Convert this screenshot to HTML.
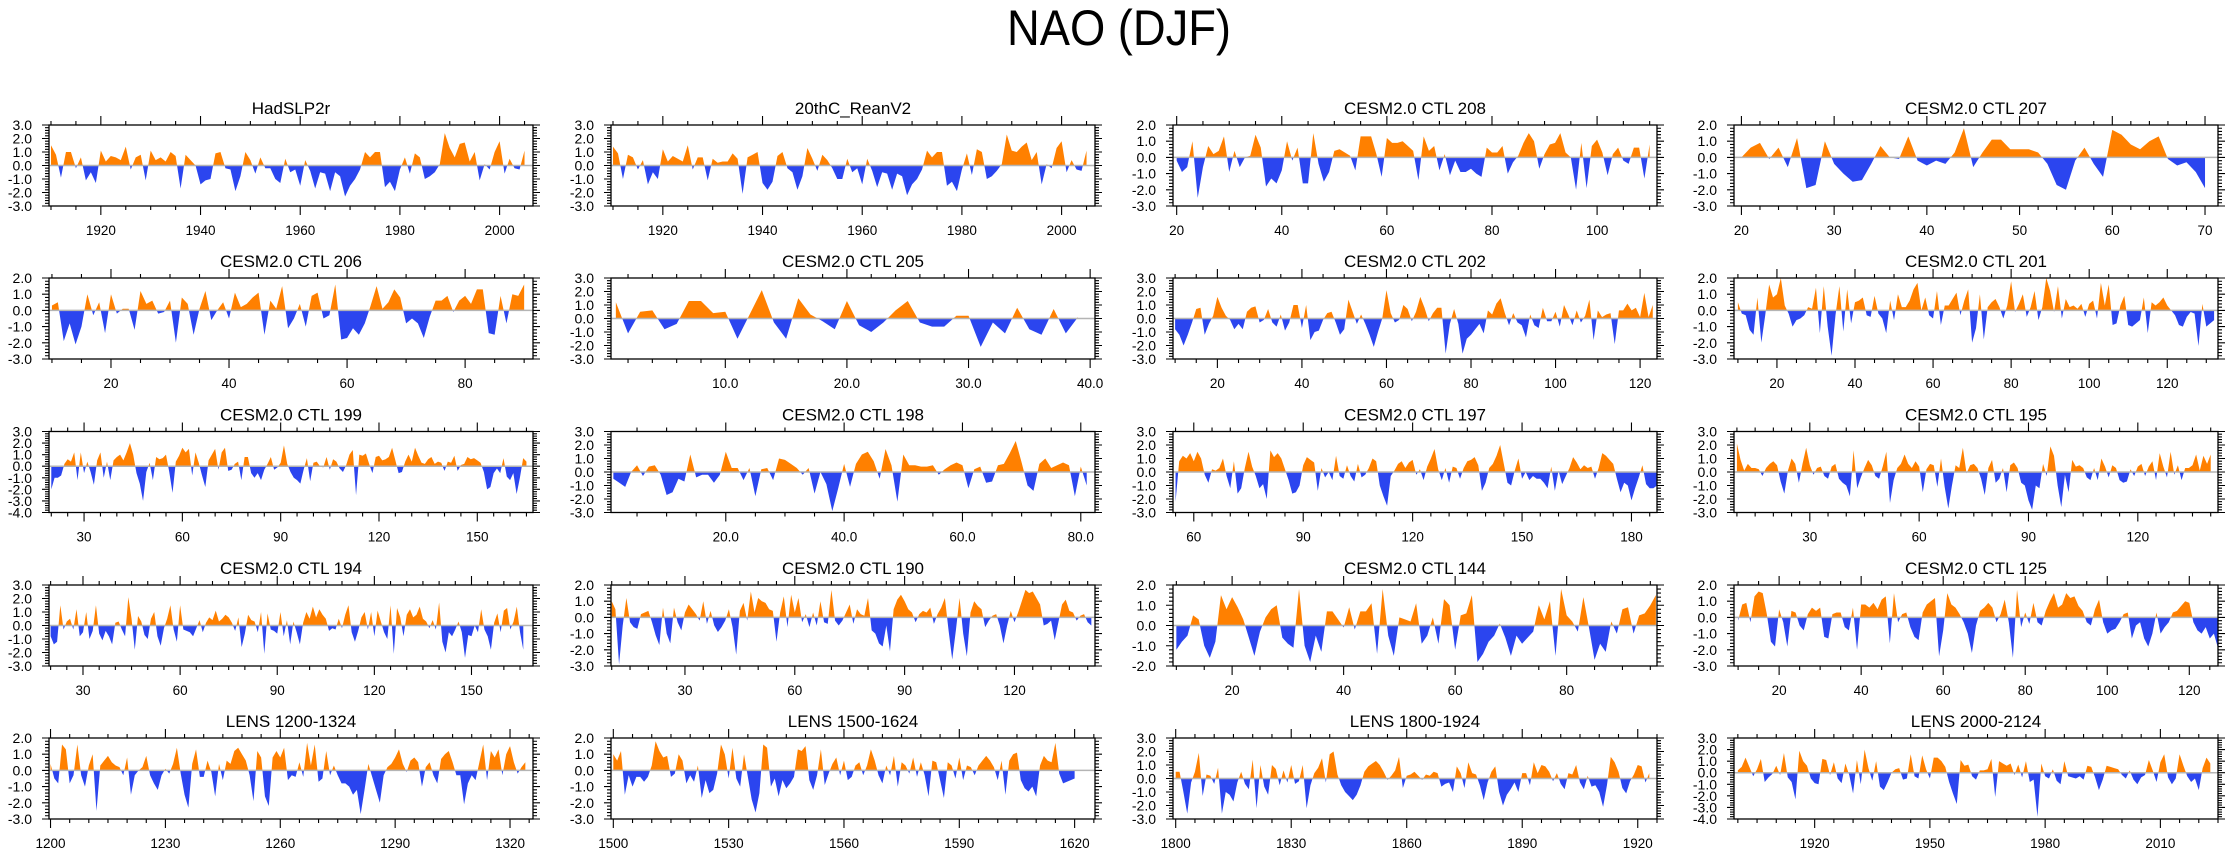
<!DOCTYPE html>
<html><head><meta charset="utf-8"><title>NAO (DJF)</title>
<style>
html,body{margin:0;padding:0;background:#fff;}
svg{display:block;font-family:"Liberation Sans",Arial,sans-serif;}
</style></head>
<body>
<svg id="chart" width="2238" height="856" viewBox="0 0 2238 856" xmlns="http://www.w3.org/2000/svg">
<rect x="0" y="0" width="2238" height="856" fill="#fff"/>
<text x="1119" y="45" text-anchor="middle" font-size="50" textLength="224" lengthAdjust="spacingAndGlyphs">NAO (DJF)</text>
<g id="panels"></g>
</svg>
<script>
const titles = ["HadSLP2r","20thC_ReanV2","CESM2.0 CTL 208","CESM2.0 CTL 207","CESM2.0 CTL 206","CESM2.0 CTL 205","CESM2.0 CTL 202","CESM2.0 CTL 201","CESM2.0 CTL 199","CESM2.0 CTL 198","CESM2.0 CTL 197","CESM2.0 CTL 195","CESM2.0 CTL 194","CESM2.0 CTL 190","CESM2.0 CTL 144","CESM2.0 CTL 125","LENS 1200-1324","LENS 1500-1624","LENS 1800-1924","LENS 2000-2124"];
const yMin = [-3,-3,-3,-3,-3,-3,-3,-3,-4,-3,-3,-3,-3,-3,-2,-3,-3,-3,-3,-4];
const yMax = [3,3,2,2,2,3,3,2,3,3,3,3,3,2,2,2,2,2,3,3];
const xMin = [1909.6,1909.6,19.3,19.2,9.5,0.6,9.5,9,19.3,0.6,54.3,9.2,19.5,9.8,9.4,9,1199.6,1499.4,1799.3,1899];
const xMax = [2006.7,2006.7,111.4,71.4,91.5,40.4,124,133,167,82.4,187,142,169,142,96.2,127,1326,1625.3,1925,2025];
const xStart = [1910,1910,20,20,10,1,10,10,20,1,55,10,20,10,10,10,1200,1500,1800,1900];
const xTicks = [
 [1920,1940,1960,1980,2000],[1920,1940,1960,1980,2000],[20,40,60,80,100],[20,30,40,50,60,70],
 [20,40,60,80],[10,20,30,40],[20,40,60,80,100,120],[20,40,60,80,100,120],
 [30,60,90,120,150],[20,40,60,80],[60,90,120,150,180],[30,60,90,120],
 [30,60,90,120,150],[30,60,90,120],[20,40,60,80],[20,40,60,80,100,120],
 [1200,1230,1260,1290,1320],[1500,1530,1560,1590,1620],[1800,1830,1860,1890,1920],[1920,1950,1980,2010]];
const xTickDecimals = [0,0,0,0,0,1,0,0,0,1,0,0,0,0,0,0,0,0,0,0];
const xMinorStep = [5,5,5,2,5,2,5,5,5,5,5,5,5,5,5,5,5,5,5,5];

const s_hadslp = [1.5,0.8,-0.9,1.0,1.0,-0.2,0.6,-1.1,-0.5,-1.3,1.1,0.3,0.7,0.6,0.4,1.4,-0.3,0.6,0.8,-1.1,1.1,0.4,0.6,0.3,1.0,0.7,-1.7,0.8,0.4,0.0,-1.4,-1.1,-1.0,0.9,1.0,-0.2,-0.3,-1.9,-0.8,1.0,0.4,-0.6,0.6,-0.2,-0.2,-1.0,-1.3,0.5,-0.5,-0.3,-1.5,0.4,-0.4,-1.7,-0.5,-0.6,-1.9,-0.5,-0.8,-2.3,-1.5,-1.0,-0.3,1.0,0.6,1.0,1.0,-1.6,-1.2,-1.9,-0.3,0.6,-0.6,0.9,0.6,-1.0,-0.8,-0.5,0.1,2.4,1.3,0.6,1.6,1.7,0.3,1.0,-1.1,0.1,-0.3,1.0,1.8,-0.6,0.5,-0.2,-0.3,1.1];
const s_20c = [1.4,0.9,-1.0,0.8,0.6,-0.3,0.4,-1.4,-0.5,-1.0,1.2,0.3,0.7,0.5,0.3,1.5,-0.3,0.6,0.6,-1.1,0.5,0.2,0.3,0.3,0.9,0.5,-2.1,0.6,0.8,1.0,-1.3,-1.8,-1.2,0.7,1.0,-0.2,-0.5,-1.8,-0.8,1.3,0.5,-0.4,0.8,0.4,-0.2,-1.0,-1.0,0.5,-0.5,-0.2,-1.4,0.5,-0.4,-1.6,-0.5,-0.6,-1.8,-0.6,-0.8,-2.2,-1.4,-1.0,-0.3,1.1,0.6,1.0,1.0,-1.5,-1.2,-1.9,-0.3,0.9,-0.7,1.2,1.0,-1.0,-0.8,-0.4,0.1,2.3,1.1,1.0,1.4,1.7,0.4,1.0,-1.4,0.1,-0.2,1.3,1.8,-0.5,0.4,-0.3,-0.4,1.1];
const s_208 = [-0.2,-0.9,-0.6,1.0,-2.5,-0.6,0.7,0.2,0.4,1.3,-0.9,0.4,-0.6,0.0,0.1,1.4,0.6,-1.8,-1.3,-1.6,-0.8,1.0,-0.2,0.6,-1.6,-1.6,1.5,-0.4,-1.5,-0.9,0.4,0.5,0.3,0.1,-0.8,1.3,1.3,1.3,0.2,-1.2,1.2,0.9,0.9,1.0,0.7,0.4,-1.4,1.3,0.4,0.7,-0.8,0.2,-1.1,-0.2,-0.9,-0.9,-0.7,-1.0,-1.2,0.6,0.3,0.3,0.7,-1.0,-0.3,0.1,0.9,1.5,1.0,-0.7,0.2,0.8,0.9,1.5,0.3,0.0,-2.0,0.9,-1.9,0.7,1.1,0.3,-1.1,0.2,0.6,-0.2,-0.4,0.6,0.6,-1.3,0.8];
const s_207 = [0.0,0.6,0.9,-0.1,0.6,-0.6,1.2,-1.9,-1.7,1.0,-0.4,-1.0,-1.5,-1.4,-0.4,0.7,0.0,-0.1,1.3,-0.2,-0.5,-0.2,-0.4,0.3,1.8,-0.6,0.3,1.1,1.1,0.5,0.5,0.5,0.3,-0.4,-1.7,-2.0,-0.2,0.6,-0.4,-1.2,1.7,1.4,0.8,0.5,1.0,1.3,-0.1,-0.5,-0.3,-0.9,-1.9];
const s_206 = [0.3,0.5,-1.9,-0.8,-2.1,-1.0,1.0,-0.3,0.5,-1.4,1.0,-0.2,0.1,0.1,-1.2,1.2,0.4,0.6,-0.2,-0.1,0.6,-2.0,0.8,0.4,-1.5,0.1,1.2,-0.6,0.0,0.5,-0.5,1.1,0.2,0.4,0.8,1.1,-1.5,0.6,0.1,1.5,-1.1,-0.5,0.4,-1.0,0.9,1.1,-0.5,-0.3,1.6,-1.8,-1.7,-1.1,-1.5,-0.8,0.3,1.5,0.1,0.5,1.3,0.8,-0.8,-0.5,-0.8,-1.7,-0.4,0.6,0.6,0.9,-0.1,0.6,0.9,0.4,1.3,1.3,-1.4,-1.5,0.9,-0.8,1.0,0.9,1.6];
const s_205 = [1.2,-1.1,0.5,0.6,-0.8,-0.4,1.3,1.3,0.4,0.5,-1.5,0.3,2.1,-0.3,-1.5,1.5,0.3,-0.2,-0.8,1.3,-0.5,-1.0,-0.3,0.6,1.3,-0.3,-0.6,-0.6,0.2,0.2,-2.1,-0.3,-1.1,0.8,-0.8,-1.2,0.7,-1.1,0.1];
const s_202 = [-0.8,-1.2,-2.0,-1.2,-0.3,0.7,0.8,-1.2,-0.4,0.2,1.6,0.8,0.2,-0.1,-0.8,-0.4,-0.8,0.5,0.8,0.9,-0.3,-0.1,0.7,-0.3,-0.6,0.3,-0.9,-0.3,1.0,1.0,-0.7,1.0,-1.6,-1.0,-0.9,-0.1,0.4,0.5,-0.3,-1.2,-0.8,1.4,0.5,-0.4,0.3,-0.4,-1.2,-2.1,-1.0,0.0,2.1,0.4,-0.3,-0.1,1.0,0.7,-0.2,0.5,1.6,0.8,-0.2,0.4,0.8,0.8,-2.6,-0.4,0.7,-0.4,-2.6,-1.5,-1.2,-0.8,-0.4,-1.1,0.6,0.3,1.1,1.5,0.4,-0.5,0.4,-0.3,-0.5,-1.4,0.3,-0.5,-0.7,0.8,-0.2,-0.2,0.5,-0.6,1.0,0.3,-0.5,0.6,-0.3,0.2,1.4,-1.6,0.6,0.1,0.3,0.4,-1.9,0.6,0.6,1.1,0.6,0.8,0.1,1.9,0.1,1.0];
const s_201 = [0.5,-0.2,-0.3,-1.2,-1.5,0.8,-2.0,-0.3,1.6,0.8,1.0,2.0,0.3,-0.2,-1.0,-0.6,-0.5,-0.3,0.2,0.1,1.4,-1.4,1.5,-1.0,-2.8,-0.3,1.5,-1.3,1.3,-0.8,0.5,0.6,0.8,-0.3,-0.4,0.9,-0.2,-0.5,-1.4,0.6,-0.6,1.0,0.2,0.2,0.6,1.3,1.7,0.0,0.8,-0.3,-0.5,1.2,-0.9,0.3,0.3,0.7,1.1,-0.3,0.6,1.3,-2.0,-1.1,1.0,-1.8,0.2,0.5,0.7,0.2,-0.5,0.3,1.8,-0.1,0.4,1.0,-0.4,0.2,1.2,-0.6,0.2,2.0,1.2,-0.1,1.5,-0.5,0.7,0.2,0.3,0.1,0.4,-0.4,0.4,0.6,-0.5,1.7,0.3,1.6,-0.9,-0.8,0.3,0.9,-0.9,-1.0,-0.8,-0.6,0.8,-1.4,0.5,0.3,0.5,0.8,0.3,0.0,-0.3,-0.9,-1.0,-0.4,-0.1,-0.2,-2.2,0.4,-1.0,-0.8,-0.6];
const s_199 = [-2.0,-1.0,-1.0,-0.8,0.2,0.6,0.4,1.2,-1.2,1.2,-0.6,0.4,-0.5,-1.6,0.5,1.2,-1.0,0.4,-1.2,0.5,0.8,1.0,0.5,1.2,2.0,1.0,-0.6,-1.5,-3.0,-0.5,0.3,-1.2,0.8,0.6,0.7,1.0,-0.5,-2.3,0.4,0.9,1.6,1.2,1.5,-0.8,1.2,0.3,-0.8,-1.8,0.5,1.0,1.5,-0.3,1.2,1.6,-0.4,-0.3,0.2,0.4,-1.2,0.8,0.8,-0.6,-1.0,-0.6,-1.2,-0.3,0.2,0.8,-0.3,-0.1,0.3,1.8,0.2,-0.5,-1.0,-1.2,-1.5,-0.3,0.7,-1.3,0.3,0.4,0.0,-0.1,0.8,-0.3,0.6,0.4,-0.2,-0.5,0.1,1.0,1.4,-2.5,1.0,0.9,1.1,0.2,-0.6,0.8,0.9,0.5,0.6,0.8,1.6,0.5,-0.6,-0.5,0.4,1.0,0.4,1.6,0.9,0.3,0.2,0.6,0.8,0.2,0.4,0.3,-0.4,0.4,0.3,0.9,-0.4,0.1,0.2,0.8,0.6,0.7,0.5,0.3,-0.5,-2.0,-1.8,-0.6,-0.2,-0.6,0.7,-0.9,-1.2,-0.6,-2.4,-1.0,0.7,0.4];
const s_198 = [-0.5,-0.8,-1.1,0.0,0.5,-0.3,0.4,0.5,-0.2,-1.7,-1.5,-0.5,-0.7,1.3,-0.4,-0.2,-0.2,-0.8,-0.2,1.5,0.3,0.3,-0.6,0.3,-1.8,0.2,0.3,-0.6,1.0,0.9,0.6,0.3,-0.2,0.3,-1.6,0.0,-0.9,-2.9,-1.2,0.6,-1.1,0.6,1.3,1.5,0.8,-0.5,1.7,0.5,-2.2,1.3,0.5,0.5,0.4,0.4,0.5,-0.2,0.2,0.5,0.7,0.5,-1.2,0.2,0.4,-0.8,-0.7,0.5,0.6,1.4,2.3,0.7,-1.0,-1.4,0.6,1.0,0.3,0.5,0.7,0.5,-1.8,0.4,-1.0];
const s_197 = [-2.2,0.8,1.2,1.0,1.4,0.8,1.5,1.0,-0.2,-0.8,0.2,0.1,0.3,1.0,-0.3,-1.2,0.8,-1.6,-1.2,0.3,1.5,0.4,-0.3,-1.2,-0.9,-2.0,1.6,1.1,1.4,1.0,0.2,-0.6,-1.6,-1.5,-1.0,0.5,1.1,0.9,0.7,-1.4,0.3,-0.4,0.0,-0.6,1.2,-0.3,-0.5,0.5,-0.3,-0.7,0.6,-0.4,-0.2,0.3,1.0,0.8,-1.0,-1.8,-2.5,-0.3,0.1,0.6,0.8,0.3,0.7,0.9,-0.2,0.2,-0.6,0.4,1.0,1.7,0.2,-0.6,0.3,-0.8,0.4,0.3,-0.5,0.3,0.8,0.9,1.1,0.5,-1.4,-0.8,0.3,0.6,1.2,2.0,0.6,-0.8,-1.0,0.1,1.0,-0.5,0.0,-0.6,-0.3,-0.5,-0.5,-0.8,-1.2,0.4,-1.4,0.1,-0.9,-0.3,0.3,1.1,0.7,0.2,0.5,0.3,0.4,-0.5,0.3,1.4,1.2,0.9,0.6,-0.5,-1.5,-0.8,-1.0,-2.1,-1.2,-0.4,0.5,-0.9,-1.2,-1.2,-1.0];
const s_195 = [2.1,0.9,0.1,0.6,0.3,0.3,0.2,-0.3,0.3,0.6,0.8,0.5,-0.7,-1.6,0.1,1.0,0.6,-0.8,0.6,1.8,0.5,-0.2,0.3,0.4,-0.3,-0.5,0.4,0.6,-0.5,-0.8,-1.0,-1.8,1.6,-1.2,-0.4,0.3,0.9,0.5,-0.3,-0.5,0.4,1.5,-2.3,-0.6,0.3,0.6,1.3,0.6,0.3,0.8,0.4,-1.5,0.2,0.6,0.5,-1.1,1.0,-1.1,-2.7,-1.0,0.5,0.3,1.8,-0.1,0.5,0.6,0.3,-0.5,-1.7,0.3,0.9,-0.8,-0.5,0.3,-1.5,0.5,0.7,0.3,-0.8,-1.0,-2.1,-2.8,-1.0,-1.2,0.6,-0.3,1.9,1.2,-1.0,-2.6,-0.2,-1.5,0.9,0.4,0.5,0.3,-0.4,-0.6,0.3,-0.6,1.0,0.4,-0.4,0.5,0.3,-0.6,-0.8,-0.7,0.2,-0.3,0.4,0.6,-0.3,0.4,0.8,-0.6,1.4,0.4,-0.4,1.5,-0.2,0.5,-0.6,0.3,0.3,0.5,1.3,0.1,1.2,0.6,1.3];
const s_194 = [-0.8,-1.4,-1.2,1.5,-0.3,0.3,0.5,-0.3,1.2,-0.8,-0.5,1.0,-1.0,-0.4,1.5,-0.6,-1.1,-0.4,-0.8,-1.4,0.2,0.3,-0.3,-0.8,2.1,0.5,-1.8,0.7,0.3,-0.7,-1.0,0.5,1.0,-0.8,-1.5,-0.2,0.5,1.5,-0.3,-1.2,1.5,-0.3,-0.4,-0.5,-0.8,-0.2,0.4,-0.5,0.2,0.6,0.4,1.1,0.3,0.5,0.8,0.6,0.2,-0.4,0.6,-1.6,-0.6,0.8,0.4,0.3,-0.5,1.0,-2.1,0.9,-0.3,-0.4,-0.6,1.0,-0.8,0.4,-1.4,0.3,-0.5,-1.4,0.2,1.0,0.5,1.4,0.6,1.2,0.8,0.5,-0.4,-0.2,-0.3,0.5,-0.2,0.8,1.5,-0.5,-1.2,-0.4,0.6,1.0,-0.3,1.0,-0.8,1.1,0.3,-0.5,-1.0,1.5,-2.1,1.3,0.6,-0.8,0.8,1.2,0.6,0.8,1.4,0.5,0.3,-0.2,0.4,-0.3,1.7,-1.2,-2.0,-0.5,-0.8,-0.3,0.3,-0.5,-2.4,-0.7,-0.8,0.0,-0.5,1.2,-0.3,-0.8,-1.8,0.2,0.9,-0.5,1.1,1.3,-0.3,0.3,1.4,-0.5,-1.8];
const s_190 = [1.0,0.5,-2.9,-0.5,1.2,-0.3,-0.6,-0.7,0.2,0.3,0.4,-0.3,-1.1,-1.7,0.6,-1.0,-1.6,0.6,-0.3,-0.8,0.3,0.8,0.5,0.2,-0.2,1.0,-0.4,0.4,-0.5,-0.9,-0.6,-0.2,0.5,-0.6,-2.3,0.4,0.9,-0.2,1.6,0.3,1.2,1.0,0.9,0.5,0.4,-1.5,0.3,1.3,-0.6,1.4,0.3,1.2,-0.3,0.2,-0.6,0.3,-0.5,1.0,-0.3,-0.4,1.7,-0.2,-0.5,-0.2,0.3,0.8,-0.4,0.5,0.2,0.1,1.2,-0.8,-1.0,-1.6,-1.8,-0.5,-2.1,0.5,1.1,1.4,1.0,0.5,0.3,-0.3,0.2,0.4,0.3,0.6,-0.4,0.2,0.6,1.2,-0.8,-2.6,-0.8,1.2,-1.0,-2.4,0.3,1.0,0.7,0.5,-0.6,-0.2,0.1,0.2,-0.5,-1.6,-0.5,0.4,-0.3,0.3,1.0,1.7,1.5,1.6,1.2,0.8,-0.5,-0.4,-0.2,-1.4,-0.3,0.8,1.1,0.4,0.3,-0.2,0.1,0.2,-0.3,-0.5];
const s_144 = [-1.2,-0.8,-0.5,0.5,0.3,-1.0,-1.6,-0.8,1.5,0.8,1.4,0.9,0.3,-0.6,-1.5,-0.3,0.4,0.8,1.0,-0.6,-0.9,-1.1,1.8,-1.0,-1.8,-0.5,-1.3,0.7,0.7,0.3,-0.1,0.9,-0.2,0.7,0.7,1.1,-1.4,1.8,-0.5,-1.5,0.4,0.3,0.2,1.1,-0.9,-0.5,0.4,-0.9,1.3,1.0,-1.2,0.5,0.6,1.5,-1.8,-1.4,-0.8,-0.5,0.1,-0.6,-1.5,-0.5,-0.9,-0.6,-0.3,1.0,0.3,1.2,-1.5,1.8,0.5,0.2,-0.3,1.4,-0.1,-1.7,-0.9,-1.3,0.2,-0.4,0.8,0.9,-0.4,0.5,0.6,1.0,1.5];
const s_125 = [-0.2,0.8,0.9,-0.3,1.3,1.6,1.5,0.2,-1.5,-1.8,0.5,-0.3,-1.8,0.4,0.3,-0.5,-0.8,0.2,0.6,0.4,0.6,-1.2,-1.3,0.2,0.3,0.3,-0.6,-0.8,0.6,-2.0,0.8,0.8,0.6,0.9,0.5,1.1,1.3,-1.6,1.5,-0.3,0.2,0.3,-0.6,-1.2,-1.4,0.3,0.8,1.0,1.2,-2.4,-0.8,1.5,0.8,0.6,0.2,-0.3,-1.0,-2.2,-0.5,0.4,0.6,0.9,0.6,-0.3,0.2,1.1,-0.3,-2.5,1.7,-0.6,0.3,-0.4,0.9,-0.3,-0.5,0.4,1.0,1.5,0.6,0.8,1.5,1.2,1.3,0.7,0.4,-0.3,-0.5,0.5,1.1,-0.3,-1.0,-0.8,-0.7,-0.3,0.2,0.3,-1.3,-0.5,-0.3,-1.3,-1.8,-1.0,0.3,-1.0,-0.6,-0.3,0.3,0.4,0.7,1.0,0.9,-0.3,-0.8,-1.0,-0.6,-1.3,-1.0,-1.9];
const s_lens1200 = [0.4,-0.5,-0.8,1.6,1.3,-0.8,-0.3,1.6,-0.3,-1.0,0.3,1.0,-2.5,0.3,0.6,0.9,0.5,0.3,0.2,-0.3,0.8,-1.5,-0.3,0.0,0.2,0.9,-0.3,-0.8,-1.2,-0.3,0.1,-0.2,0.4,1.4,-0.2,-1.5,-2.3,0.4,1.3,-0.4,-0.4,0.6,-0.1,-1.6,0.4,-0.6,0.6,0.4,1.2,1.4,1.0,0.6,-0.3,-1.9,1.2,0.8,-1.6,-2.2,0.8,1.2,0.8,1.4,-0.6,-0.3,-0.4,0.5,-0.4,1.7,0.3,1.6,-0.7,-0.5,1.2,-0.3,0.3,-0.3,-0.8,-0.8,-1.0,-1.5,-1.2,-2.7,-1.2,0.4,-0.4,-1.2,-2.0,-0.3,0.2,0.4,0.8,1.3,0.4,-0.1,0.6,0.8,0.5,-1.0,0.2,0.5,-0.3,-0.8,0.7,1.0,1.2,0.5,-0.3,-0.3,-2.1,-0.8,-0.3,-0.6,0.5,1.6,-0.6,1.2,0.8,1.3,-0.3,1.0,1.5,0.5,-0.2,0.2,0.5];
const s_lens1500 = [1.0,0.6,1.2,-1.5,-0.3,-1.0,-0.4,-0.4,-0.7,-0.4,0.3,1.8,1.2,0.8,0.9,-0.4,-0.2,1.0,0.6,-0.8,-0.3,-0.7,0.3,-1.7,-0.6,-1.4,-1.2,-0.2,1.6,1.0,-0.5,1.4,-0.5,-1.0,1.0,-0.4,-1.8,-2.6,-1.4,1.6,1.4,-1.0,-0.5,-1.6,-0.6,-1.1,-0.8,-0.4,1.3,1.2,1.5,-0.6,-1.2,-0.3,1.3,-0.9,-0.2,0.4,0.8,-0.3,0.6,-0.6,-0.4,0.3,0.5,-0.3,0.3,1.3,0.6,-0.3,-0.8,0.3,-0.3,0.9,-1.0,0.5,0.3,-0.2,0.8,-0.4,0.5,-0.3,-1.6,0.6,0.5,-0.6,-1.7,0.5,0.3,-0.5,0.8,-0.6,0.3,0.2,-0.3,0.3,0.6,0.9,0.6,0.2,-0.6,0.6,-1.5,0.6,1.0,1.1,-0.6,-1.1,-1.3,-1.0,-1.6,0.3,0.9,0.6,0.5,1.7,-0.2,-0.8,-0.7,-0.6,-0.5];
const s_lens1800 = [0.5,0.5,-1.0,-2.6,-0.3,0.5,1.9,-1.3,0.3,0.2,-0.4,0.8,-2.6,-1.0,-1.2,-1.7,-0.3,0.5,-0.4,-0.8,1.4,-2.2,1.0,-0.6,-1.2,1.0,0.7,-0.5,0.6,-0.3,1.0,-0.4,-0.2,1.0,-2.2,-0.5,0.4,0.8,1.5,-0.3,1.8,2.0,0.3,-0.5,-1.0,-1.3,-1.6,-1.2,-0.5,0.5,0.9,1.1,1.3,1.0,0.5,-0.1,0.2,0.6,1.6,-0.7,0.2,0.3,0.5,0.2,-0.1,0.3,0.2,0.5,0.4,-0.6,-0.4,-0.3,-1.0,0.9,0.4,-0.7,1.2,0.4,0.3,-0.5,-1.6,-0.3,0.5,0.9,-1.0,-2.0,-1.2,-0.8,-0.3,-1.0,0.4,0.4,-0.5,1.2,0.4,1.0,0.9,0.5,-0.2,0.4,-0.4,-0.8,0.4,0.3,1.0,-0.3,-0.8,0.2,-0.6,-0.5,-1.0,-2.1,-0.5,1.6,1.2,0.5,-0.7,-1.1,-0.2,0.3,1.0,0.9,-0.3,0.4];
const s_lens2000 = [0.2,0.5,1.3,0.5,-0.3,0.3,1.2,-0.8,-0.4,-0.1,0.6,-0.2,1.7,-0.4,-0.8,-2.3,1.9,1.0,0.6,-0.5,-0.9,-1.0,1.2,1.1,-0.2,0.9,-0.5,-0.9,0.8,-0.2,-1.8,1.1,-1.0,2.0,0.4,-0.7,1.0,-1.2,-1.5,-0.8,0.0,0.3,0.4,-0.6,-0.5,1.6,-0.3,-0.5,1.5,0.3,-0.5,1.3,1.3,1.0,0.5,-0.8,-1.8,-2.7,1.1,0.6,0.7,-0.3,-0.6,0.2,0.2,0.3,1.2,-2.1,1.0,0.8,0.6,0.8,-0.2,0.7,-0.4,1.0,-0.8,-0.6,-3.8,0.8,-0.3,-0.5,0.3,-0.7,-1.0,1.0,-0.3,-0.4,-0.5,-0.3,-0.6,0.6,0.5,-0.4,-1.5,-0.6,0.6,0.5,0.4,0.3,-0.2,-0.5,0.2,-0.6,-1.0,-0.4,-0.2,1.1,0.2,-0.8,0.9,1.6,-0.4,-1.0,-0.5,1.6,0.6,-0.3,-0.8,-0.5,-1.5,0.4,1.3,0.8];
const series = [s_hadslp,s_20c,s_208,s_207,s_206,s_205,s_202,s_201,s_199,s_198,s_197,s_195,s_194,s_190,s_144,s_125,s_lens1200,s_lens1500,s_lens1800,s_lens2000];

const NS = "http://www.w3.org/2000/svg";
const colLeft = [49, 611, 1173, 1734];
const rowTop = [125, 278, 431.5, 585, 738];
const PW = 484, PH = 81;
const root = document.getElementById('panels');
function mk(tag, attrs, parent){ const e=document.createElementNS(NS,tag); for(const k in attrs) e.setAttribute(k,attrs[k]); if(parent) parent.appendChild(e); return e; }

for (let p = 0; p < 20; p++) {
  const L = colLeft[p % 4], T = rowTop[Math.floor(p / 4)];
  const xs = v => L + (v - xMin[p]) / (xMax[p] - xMin[p]) * PW;
  const ys = v => T + (yMax[p] - v) / (yMax[p] - yMin[p]) * PH;
  const g = mk('g', {}, root);
  
  
  const cp = mk('clipPath', {id: 'clip' + p}, g);
  mk('rect', {x: L, y: T, width: PW, height: PH}, cp);

  const vals = series[p];
  const pts = [];
  for (let i = 0; i < vals.length; i++) {
    const x = xStart[p] + i, v = vals[i];
    if (i > 0) {
      const pv = vals[i - 1];
      if ((pv > 0 && v < 0) || (pv < 0 && v > 0)) {
        const t = pv / (pv - v);
        pts.push([x - 1 + t, 0]);
      }
    }
    pts.push([x, v]);
  }
  const x0 = pts[0][0], x1 = pts[pts.length - 1][0];
  let dPos = 'M' + xs(x0).toFixed(2) + ',' + ys(0).toFixed(2);
  let dNeg = dPos;
  pts.forEach(q => {
    dPos += 'L' + xs(q[0]).toFixed(2) + ',' + ys(Math.max(q[1], 0)).toFixed(2);
    dNeg += 'L' + xs(q[0]).toFixed(2) + ',' + ys(Math.min(q[1], 0)).toFixed(2);
  });
  dPos += 'L' + xs(x1).toFixed(2) + ',' + ys(0).toFixed(2) + 'Z';
  dNeg += 'L' + xs(x1).toFixed(2) + ',' + ys(0).toFixed(2) + 'Z';
  const gc = mk('g', {'clip-path': 'url(#clip' + p + ')'}, g);
  const pos = mk('path', {d: dPos, fill: '#ff8000', stroke: 'none'}, gc);
  
  
  const neg = mk('path', {d: dNeg, fill: '#2b45ef', stroke: 'none'}, gc);
  
  
  const zl = mk('line', {x1: L, x2: L + PW, y1: ys(0), y2: ys(0), stroke: '#b4b4b4', 'stroke-width': 1.5}, g);
  
  

  const fr = mk('rect', {x: L, y: T, width: PW, height: PH, fill: 'none', stroke: '#000', 'stroke-width': 1.3}, g);
  
  

  let td = '';
  for (let k = 0; k <= Math.round((yMax[p] - yMin[p]) * 5); k++) {
    const v = yMin[p] + k * 0.2;
    const y = ys(v);
    const major = k % 5 === 0;
    const len = major ? 7 : 4;
    td += 'M' + L + ',' + y.toFixed(2) + 'h' + (-len);
    td += 'M' + (L + PW) + ',' + y.toFixed(2) + 'h' + len;
  }
  const ms = xMinorStep[p];
  for (let v = Math.ceil(xMin[p] / ms) * ms; v <= xMax[p] + 1e-9; v += ms) {
    const x = xs(v).toFixed(2);
    td += 'M' + x + ',' + T + 'v-4M' + x + ',' + (T + PH) + 'v4';
  }
  xTicks[p].forEach(v => {
    const x = xs(v).toFixed(2);
    td += 'M' + x + ',' + T + 'v-9M' + x + ',' + (T + PH) + 'v9';
  });
  const tk = mk('path', {d: td, stroke: '#000', 'stroke-width': 1.1, fill: 'none'}, g);
  
  

  for (let v = yMin[p]; v <= yMax[p]; v++) {
    const t = mk('text', {x: L - 17, y: ys(v) + 5, 'text-anchor': 'end', 'font-size': 14}, g);
    t.textContent = v.toFixed(1);
    
    
  }
  xTicks[p].forEach(v => {
    const t = mk('text', {x: xs(v), y: T + PH + 29, 'text-anchor': 'middle', 'font-size': 13.5}, g);
    t.textContent = v.toFixed(xTickDecimals[p]);
    
    
  });
  const tt = mk('text', {x: L + PW / 2, y: T - 11, 'text-anchor': 'middle', 'font-size': 17}, g);
  tt.textContent = titles[p];
  
  
}
</script>
</body></html>
